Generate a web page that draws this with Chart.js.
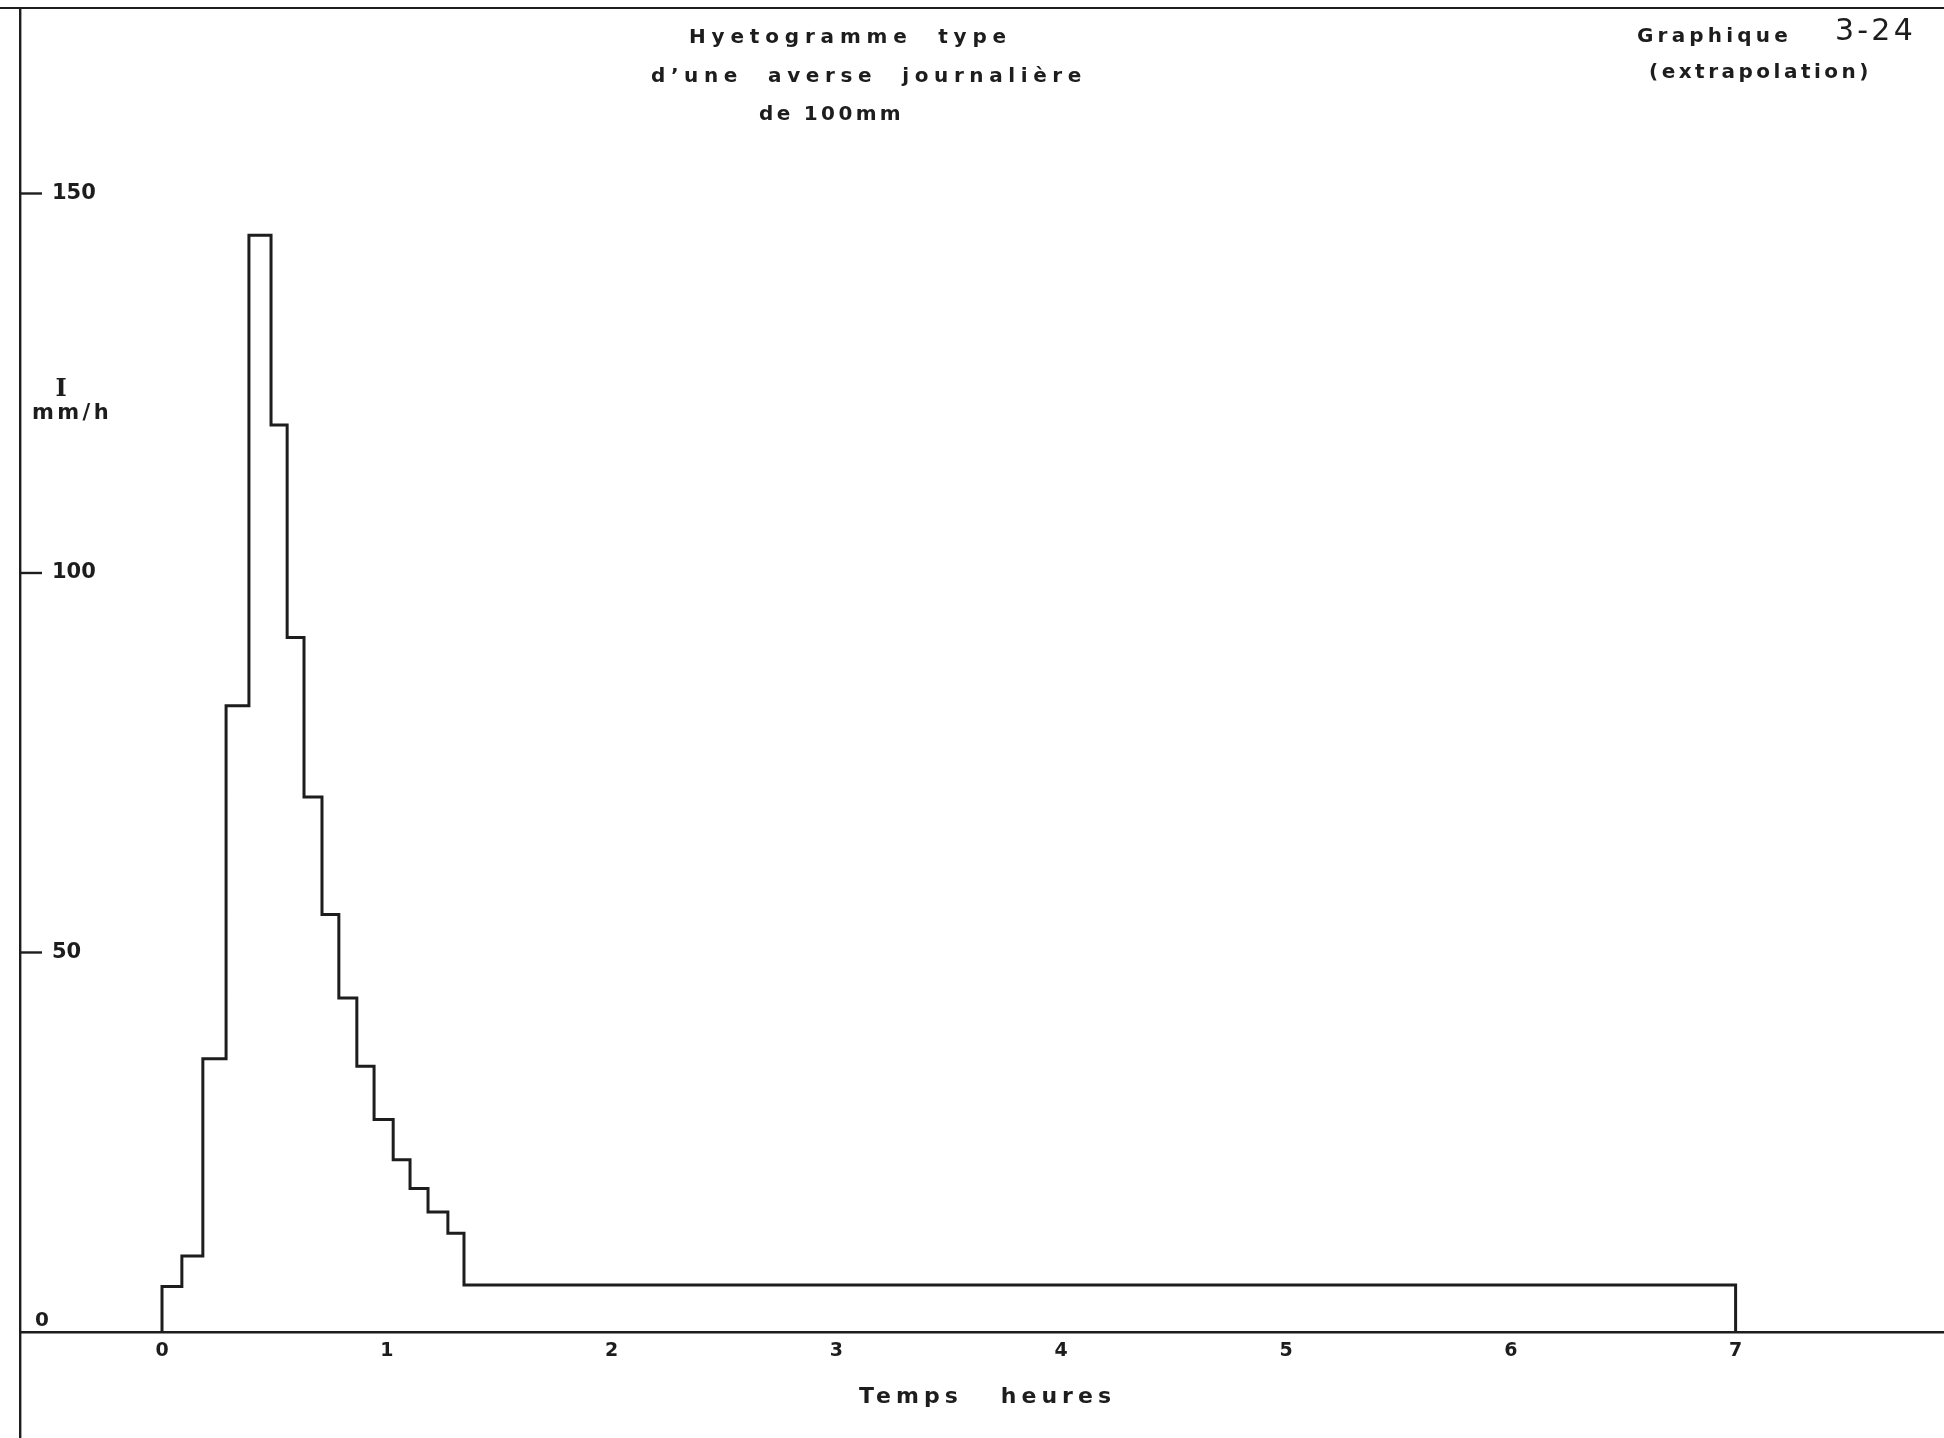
<!DOCTYPE html>
<html>
<head>
<meta charset="utf-8">
<title>Hyetogramme type</title>
<script src="https://cdn.jsdelivr.net/npm/chart.js@4.4.1/dist/chart.umd.min.js"></script>
<style>
  html, body { margin: 0; padding: 0; background: #fff; }
  #wrap { width: 1944px; height: 1438px; }
</style>
</head>
<body>
<div id="wrap"><canvas id="hyeto" width="1944" height="1438"></canvas></div>
<script>
// début de chaque pas (minutes) et intensité (mm/h)
const stepStartMin = [0, 5.3, 10.9, 17.1, 23.2, 29.1, 33.4, 37.9, 42.7, 47.2, 52, 56.6, 61.7, 66.2, 71, 76.3];
const intensity = [6, 10, 36, 82.5, 144.5, 119.5, 91.5, 70.5, 55, 44, 35, 28, 22.7, 18.9, 15.8, 13];
// palier final jusqu'à 7 h
const tailStartMin = 80.6;
const tailEndHour = 7;
const tailIntensity = 6.2;

const xTicks = [0, 1, 2, 3, 4, 5, 6, 7];
const yTicks = [50, 100, 150];

const ink = '#1d1d1d';

const points = [{ x: 0, y: 0 }];
stepStartMin.forEach((m, i) => points.push({ x: m / 60, y: intensity[i] }));
points.push({ x: tailStartMin / 60, y: tailIntensity });
points.push({ x: tailEndHour, y: tailIntensity });
points.push({ x: tailEndHour, y: 0 });

function spaced(ctx, text, left, cy, width, font) {
  ctx.font = font;
  ctx.letterSpacing = '0px';
  const w = ctx.measureText(text).width;
  const gap = Math.max(0, (width - w) / text.length);
  ctx.letterSpacing = gap + 'px';
  ctx.textAlign = 'left';
  ctx.textBaseline = 'middle';
  ctx.fillText(text, left, cy);
  ctx.letterSpacing = '0px';
}

const decor = {
  id: 'decor',
  afterDraw(chart) {
    const { ctx, chartArea, scales } = chart;
    ctx.save();
    ctx.strokeStyle = ink;
    ctx.fillStyle = ink;

    // bord supérieur de la feuille
    ctx.lineWidth = 2;
    ctx.beginPath();
    ctx.moveTo(0, chartArea.top);
    ctx.lineTo(chart.width, chartArea.top);
    ctx.stroke();

    // petits traits des graduations verticales
    ctx.lineWidth = 2.4;
    yTicks.forEach(v => {
      const y = scales.y.getPixelForValue(v);
      ctx.beginPath();
      ctx.moveTo(chartArea.left, y);
      ctx.lineTo(chartArea.left + 22, y);
      ctx.stroke();
    });

    // le zéro est écrit au-dessus de l'axe
    ctx.font = 'bold 20px "DejaVu Sans"';
    ctx.textAlign = 'center';
    ctx.textBaseline = 'middle';
    ctx.fillText('0', 42, scales.y.getPixelForValue(0) - 11);

    // titres
    spaced(ctx, 'Hyetogramme  type', 689, 38, 323, 'bold 20px "DejaVu Sans"');
    spaced(ctx, 'd\u2019une  averse  journalière', 651, 77, 436, 'bold 20px "DejaVu Sans"');
    spaced(ctx, 'de 100mm', 759, 115, 145, 'bold 20px "DejaVu Sans"');

    spaced(ctx, 'Graphique', 1637, 37, 155, 'bold 20px "DejaVu Sans"');
    spaced(ctx, '3-24', 1835, 32, 81, '30px "DejaVu Sans"');
    spaced(ctx, '(extrapolation)', 1649, 73, 223, 'bold 20px "DejaVu Sans"');

    // titres des axes
    spaced(ctx, 'Temps   heures', 859, 1397, 257, 'bold 22px "DejaVu Sans"');
    ctx.font = 'bold 24px "DejaVu Serif"';
    ctx.textAlign = 'center';
    ctx.fillText('I', 61, 390);
    spaced(ctx, 'mm/h', 32, 414, 80, 'bold 21px "DejaVu Sans"');

    ctx.restore();
  }
};

new Chart(document.getElementById('hyeto'), {
  type: 'line',
  data: {
    datasets: [{
      data: points,
      stepped: 'before',
      borderColor: ink,
      borderWidth: 3,
      pointRadius: 0,
      fill: false
    }]
  },
  options: {
    responsive: false,
    animation: false,
    layout: { padding: { left: 20, top: 8, right: 0, bottom: 0 } },
    plugins: {
      legend: { display: false },
      tooltip: { enabled: false }
    },
    scales: {
      x: {
        type: 'linear',
        position: { y: 0 },
        min: -0.6317,
        max: 7.927,
        grid: { display: false, drawTicks: false },
        border: { display: true, color: ink, width: 2.4 },
        afterBuildTicks: s => { s.ticks = xTicks.map(v => ({ value: v })); },
        afterFit: s => { s.paddingLeft = 0; s.paddingRight = 0; s.paddingTop = 0; s.paddingBottom = 0; },
        ticks: {
          color: ink,
          padding: 8,
          font: { family: 'DejaVu Sans', size: 19, weight: 'bold' }
        }
      },
      y: {
        type: 'linear',
        position: 'left',
        min: -13.97,
        max: 174.44,
        grid: { display: false, drawTicks: false },
        border: { display: true, color: ink, width: 2.4 },
        afterBuildTicks: s => { s.ticks = yTicks.map(v => ({ value: v })); },
        afterFit: s => { s.width = 0; s.paddingTop = 0; s.paddingBottom = 0; },
        ticks: {
          mirror: true,
          padding: 32,
          color: ink,
          font: { family: 'DejaVu Sans', size: 21, weight: 'bold' }
        }
      }
    }
  },
  plugins: [decor]
});
</script>
</body>
</html>
